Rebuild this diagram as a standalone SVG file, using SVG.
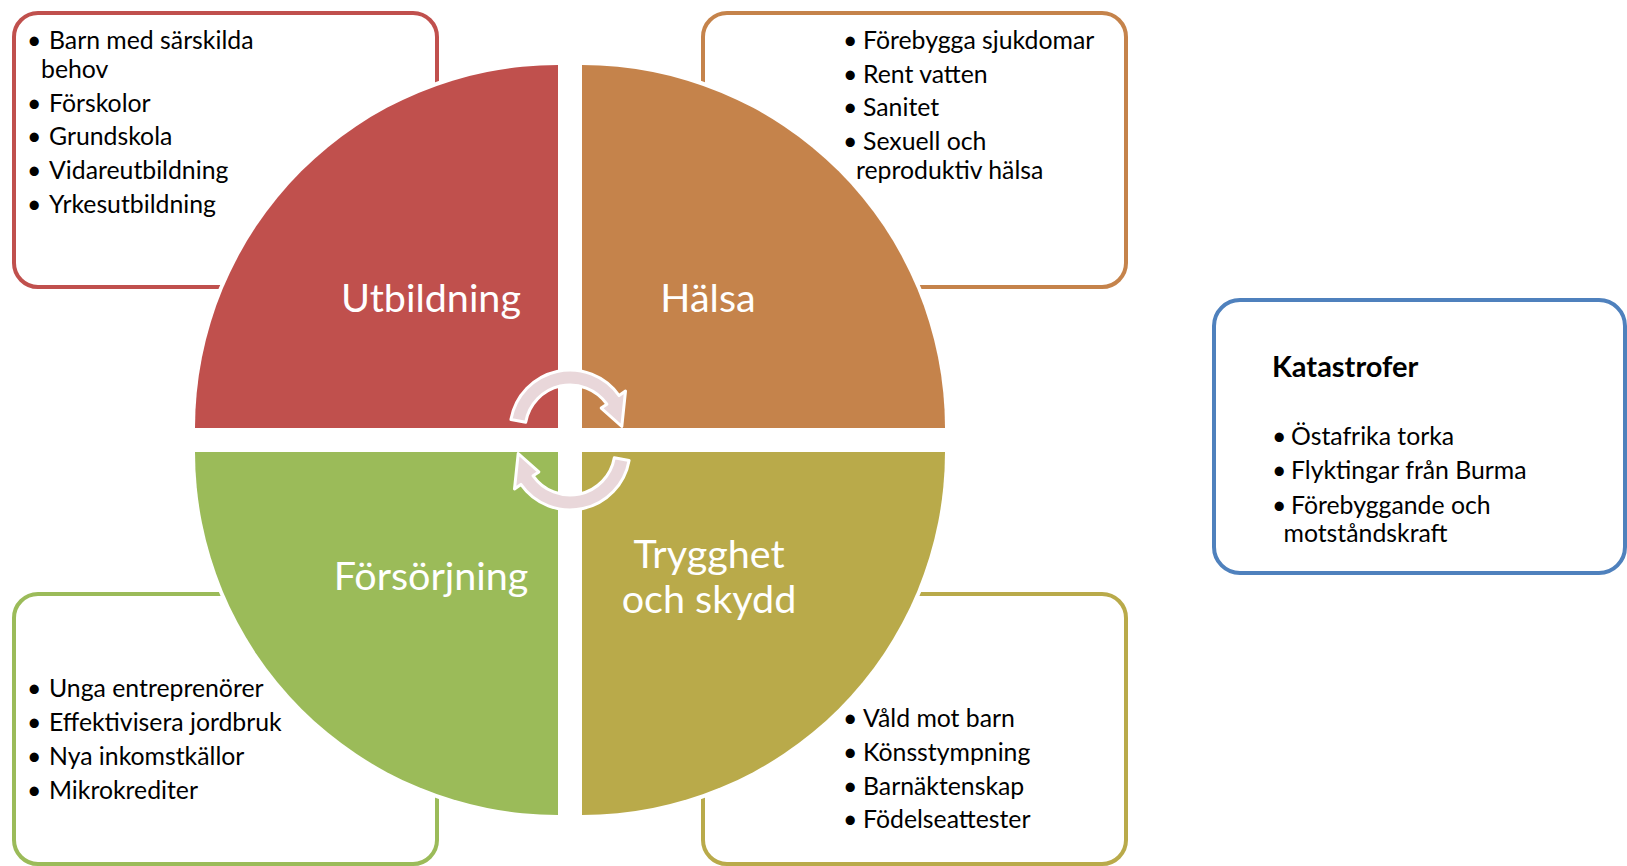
<svg xmlns="http://www.w3.org/2000/svg" xmlns:xlink="http://www.w3.org/1999/xlink" width="1627" height="866" viewBox="0 0 1627 866">
<style>
.box{fill:#ffffff;stroke-width:4}
.t{font-family:Lato,"Liberation Sans",sans-serif;font-size:24.8px;fill:#000000}
.h{font-family:Lato,"Liberation Sans",sans-serif;font-size:29px;font-weight:bold;fill:#000000}
.lbl{font-family:Lato,"Liberation Sans",sans-serif;font-size:39.5px;fill:#ffffff;text-anchor:middle}
.halo{fill:#ffffff;stroke:#ffffff;stroke-width:8}
.arw{fill:#e9d7da;stroke:#ffffff;stroke-width:3;stroke-linejoin:round}
</style>
<defs>
<path id="qRed" d="M558,428 L195,428 A363,363 0 0 1 558,65 Z"/>
<path id="qOrange" d="M582,428 L582,65 A363,363 0 0 1 945,428 Z"/>
<path id="qOlive" d="M582,452 L945,452 A363,363 0 0 1 582,815 Z"/>
<path id="qGreen" d="M558,452 L558,815 A363,363 0 0 1 195,452 Z"/>
<path id="arrow" d="M510.9,419.6 A60,60 0 0 1 619.1,395.6 L625.5,391.1 L621.8,426.5 L601.2,408.1 L606.9,404.2 A45,45 0 0 0 525.7,422.2 Z"/>
</defs>
<rect width="1627" height="866" fill="#ffffff"/>

<g id="box-utbildning">
<rect class="box" x="14" y="13" width="423" height="274" rx="24" stroke="#c0504d"/>
<text class="t" y="49"><tspan x="27">•</tspan><tspan x="49">Barn med särskilda</tspan></text>
<text class="t" x="41" y="78">behov</text>
<text class="t" y="111.5"><tspan x="27">•</tspan><tspan x="49">Förskolor</tspan></text>
<text class="t" y="145"><tspan x="27">•</tspan><tspan x="49">Grundskola</tspan></text>
<text class="t" y="179"><tspan x="27">•</tspan><tspan x="49">Vidareutbildning</tspan></text>
<text class="t" y="212.5"><tspan x="27">•</tspan><tspan x="49">Yrkesutbildning</tspan></text>
</g>

<g id="box-halsa">
<rect class="box" x="703" y="13" width="423" height="274" rx="24" stroke="#c5834b"/>
<text class="t" y="49"><tspan x="843">•</tspan><tspan x="863">Förebygga sjukdomar</tspan></text>
<text class="t" y="83"><tspan x="843">•</tspan><tspan x="863">Rent vatten</tspan></text>
<text class="t" y="116"><tspan x="843">•</tspan><tspan x="863">Sanitet</tspan></text>
<text class="t" y="149.5"><tspan x="843">•</tspan><tspan x="863">Sexuell och</tspan></text>
<text class="t" x="856" y="178.5">reproduktiv hälsa</text>
</g>

<g id="box-forsorjning">
<rect class="box" x="14" y="594" width="423" height="270" rx="24" stroke="#9bbb59"/>
<text class="t" y="697"><tspan x="27">•</tspan><tspan x="49">Unga entreprenörer</tspan></text>
<text class="t" y="730.5"><tspan x="27">•</tspan><tspan x="49">Effektivisera jordbruk</tspan></text>
<text class="t" y="764.5"><tspan x="27">•</tspan><tspan x="49">Nya inkomstkällor</tspan></text>
<text class="t" y="799"><tspan x="27">•</tspan><tspan x="49">Mikrokrediter</tspan></text>
</g>

<g id="box-trygghet">
<rect class="box" x="703" y="594" width="423" height="270" rx="24" stroke="#b9aa4a"/>
<text class="t" y="726.5"><tspan x="843">•</tspan><tspan x="863">Våld mot barn</tspan></text>
<text class="t" y="760.5"><tspan x="843">•</tspan><tspan x="863">Könsstympning</tspan></text>
<text class="t" y="795"><tspan x="843">•</tspan><tspan x="863">Barnäktenskap</tspan></text>
<text class="t" y="828"><tspan x="843">•</tspan><tspan x="863">Födelseattester</tspan></text>
</g>

<g id="box-katastrofer">
<rect class="box" x="1214" y="300" width="411" height="273" rx="26" stroke="#4f81bd"/>
<text class="h" x="1272" y="377">Katastrofer</text>
<text class="t" y="445"><tspan x="1272">•</tspan><tspan x="1291">Östafrika torka</tspan></text>
<text class="t" y="479"><tspan x="1272">•</tspan><tspan x="1291">Flyktingar från Burma</tspan></text>
<text class="t" y="513.5"><tspan x="1272">•</tspan><tspan x="1291">Förebyggande och</tspan></text>
<text class="t" x="1283.5" y="541.5">motståndskraft</text>
</g>

<g id="quadrant-halo">
<use xlink:href="#qRed" class="halo"/>
<use xlink:href="#qOrange" class="halo"/>
<use xlink:href="#qOlive" class="halo"/>
<use xlink:href="#qGreen" class="halo"/>
</g>

<g id="q-utbildning">
<use xlink:href="#qRed" fill="#c0504d"/>
<text class="lbl" x="431" y="312">Utbildning</text>
</g>
<g id="q-halsa">
<use xlink:href="#qOrange" fill="#c5834b"/>
<text class="lbl" x="708" y="312">Hälsa</text>
</g>
<g id="q-trygghet">
<use xlink:href="#qOlive" fill="#b9aa4a"/>
<text class="lbl" x="709" y="568">Trygghet</text>
<text class="lbl" x="709" y="613">och skydd</text>
</g>
<g id="q-forsorjning">
<use xlink:href="#qGreen" fill="#9bbb59"/>
<text class="lbl" x="431" y="590">Försörjning</text>
</g>

<g id="connectors">
<use xlink:href="#arrow" class="arw"/>
<use xlink:href="#arrow" class="arw" transform="rotate(180 570 440)"/>
</g>
</svg>
